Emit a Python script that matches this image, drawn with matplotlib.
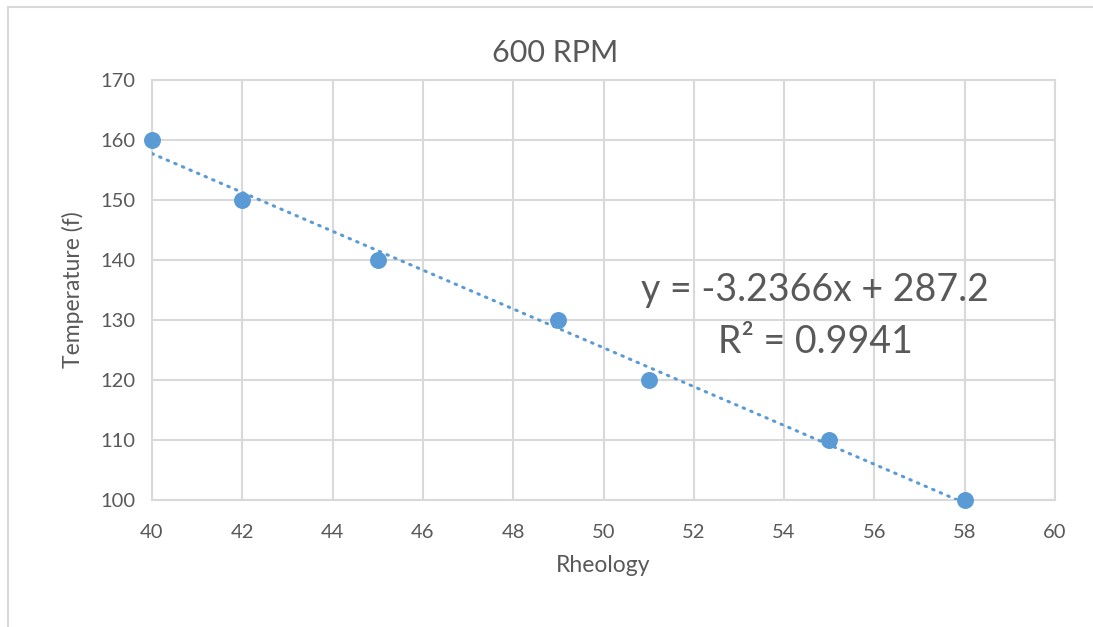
import numpy as np
import matplotlib.pyplot as plt
from matplotlib.patches import Rectangle

plt.rcParams['font.family'] = ['Lato', 'DejaVu Sans']

rheology = [40, 42, 45, 49, 51, 55, 58]
temperature = [160, 150, 140, 130, 120, 110, 100]
slope = -3.2366
intercept = 287.2
r_squared = 0.9941

blue = '#5B9BD5'
grid = '#D9D9D9'
text_c = '#595959'

fig = plt.figure(figsize=(10.93, 6.27), dpi=100)
ax = fig.add_axes([152/1093, 1 - 500/627, (1055 - 152)/1093, (500 - 80)/627])

# linear trendline across the data range
xt = np.array([min(rheology), max(rheology)])
ax.plot(xt, slope*xt + intercept, color=blue, lw=2.2, ls=(0, (0.5, 2.2)),
        dash_capstyle='round', zorder=3)
ax.scatter(rheology, temperature, s=125, color=blue, zorder=4, clip_on=False)

ax.set_xlim(40, 60)
ax.set_ylim(100, 170)
ax.set_xticks(range(40, 61, 2))
ax.set_yticks(range(100, 171, 10))
ax.grid(True, color=grid, lw=1.5)
ax.set_axisbelow(True)
for s in ax.spines.values():
    s.set_color(grid)
    s.set_linewidth(1.5)
ax.tick_params(length=0, labelsize=14.5, colors=text_c)
ax.tick_params(axis='x', pad=17)
ax.tick_params(axis='y', pad=12)

ax.set_xlabel('Rheology', fontsize=16.5, color=text_c, labelpad=10)
ax.set_ylabel('Temperature (f)', fontsize=16.5, color=text_c, labelpad=12)
fig.text(555/1093, 1 - 53/627, '600 RPM', ha='center', va='center',
         fontsize=22, color=text_c)

ax.text(815/1093, 1 - 290/627, f'y = {slope}x + {intercept}', transform=fig.transFigure,
        ha='center', va='center', fontsize=27, color=text_c)
ax.text(815/1093, 1 - 342/627, f'R² = {r_squared}', transform=fig.transFigure,
        ha='center', va='center', fontsize=27, color=text_c)

# chart frame
fig.patches.append(Rectangle((8/1093, -0.1), 1.2, 1 - 7/627 + 0.1, transform=fig.transFigure,
                             fill=False, edgecolor=grid, lw=1.5))

fig.savefig('out.png', dpi=100)
